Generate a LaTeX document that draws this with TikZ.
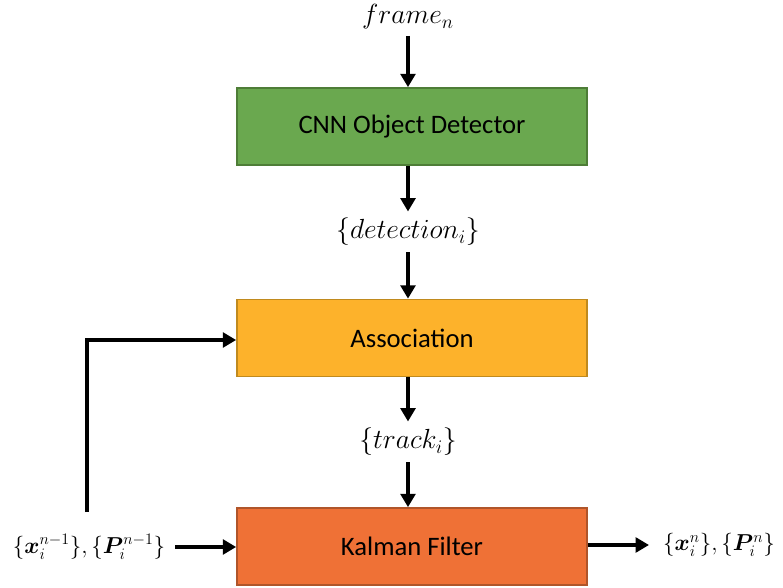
\documentclass[tikz,border=0pt]{standalone}
\usepackage{amsmath,bm}
\usepackage{fontspec}
\setmainfont{Carlito}
\usetikzlibrary{arrows.meta}
\definecolor{cnngreen}{HTML}{6AA84F}
\definecolor{cnnborder}{HTML}{4E7D37}
\definecolor{assocfill}{HTML}{FDB22B}
\definecolor{assocborder}{HTML}{C08A1E}
\definecolor{kalfill}{HTML}{EF7136}
\definecolor{kalborder}{HTML}{B0552A}
\tikzset{
  blockbox/.style={draw, line width=1.2pt, minimum width=262.5pt, minimum height=57.75pt, inner sep=0pt, font=\fontsize{20}{24}\selectfont},
  flow/.style={line width=3pt, -{Triangle[length=10pt,width=11pt]}},
  mathlbl/.style={inner sep=1pt, outer sep=4pt, font=\fontsize{20.74}{24}\selectfont},
  vecl/.style={inner sep=1pt, font=\fontsize{17.28}{20}\selectfont},
}
\begin{document}
\begin{tikzpicture}[x=0.75pt,y=-0.75pt]
\useasboundingbox (0,0) rectangle (783,588);
\node[blockbox, fill=cnngreen, draw=cnnborder] (cnn) at (412,126.5) {CNN Object Detector};
\node[blockbox, fill=assocfill, draw=assocborder] (assoc) at (412,338) {Association};
\node[blockbox, fill=kalfill, draw=kalborder] (kal) at (412,546.5) {Kalman Filter};
\node[mathlbl] (frame) at (408,17) {$frame_n$};
\node[mathlbl] (det) at (408,232) {$\{detection_i\}$};
\node[mathlbl] (trk) at (408,442) {$\{track_i\}$};
\node[vecl] (inp) at (89,547) {$\{\bm{x}_i^{n-1}\},\{\bm{P}_i^{n-1}\}$};
\node[vecl] (out) at (719,545) {$\{\bm{x}_i^{n}\},\{\bm{P}_i^{n}\}$};
\coordinate (fbtop) at (87,340);
\coordinate (fbbot) at (87,512);
\coordinate (inA) at (175,547);
\coordinate (outA) at (649,545);
\draw[flow] (frame.south) -- (cnn.north -| frame);
\draw[flow] (cnn.south -| det) -- (det.north);
\draw[flow] (det.south) -- (assoc.north -| det);
\draw[flow] (assoc.south -| trk) -- (trk.north);
\draw[flow] (trk.south) -- (kal.north -| trk);
\draw[flow] (fbbot) -- (fbtop) -- (fbtop -| assoc.west);
\draw[flow] (inA) -- (inA -| kal.west);
\draw[flow] (kal.east |- outA) -- (outA);
\end{tikzpicture}
\end{document}
